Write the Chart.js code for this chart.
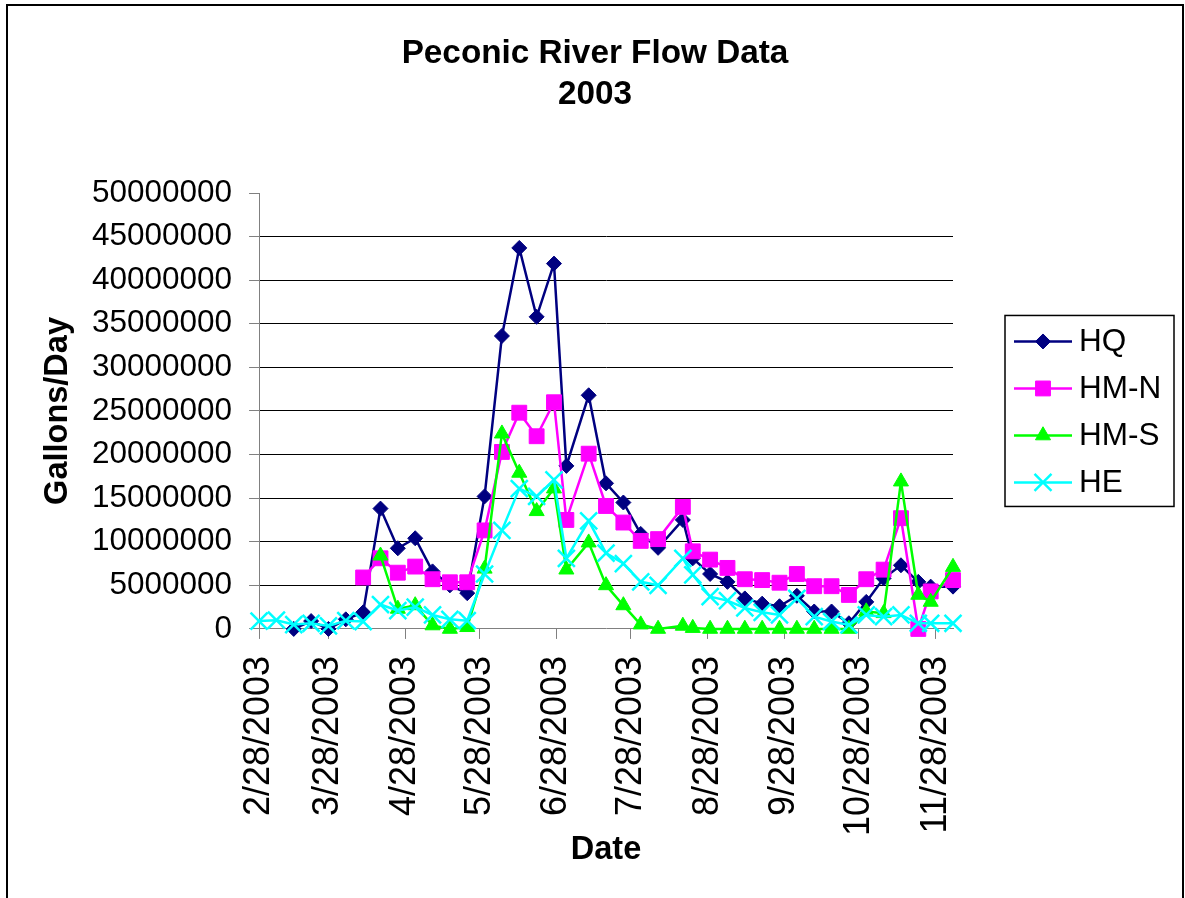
<!DOCTYPE html>
<html>
<head>
<meta charset="utf-8">
<script src="https://cdn.jsdelivr.net/npm/chart.js@4/dist/chart.umd.min.js"></script>
<style>
  html, body { margin: 0; padding: 0; background: #fff; overflow: hidden; }
  #wrap { position: relative; width: 1185px; height: 898px; }
  #frame { position: absolute; left: 6px; top: 4px; width: 1178px; height: 1000px; box-sizing: border-box; border: 2px solid #000; pointer-events: none; }
  canvas { position: absolute; left: 0; top: 0; }
</style>
</head>
<body>
<div id="wrap">
  <canvas id="c" width="1185" height="898"></canvas>
  <div id="frame"></div>
</div>
<script>
// ---- data (Gallons/Day) ----
const dates = ['2/28/2003','3/7/2003','3/14/2003','3/21/2003','3/28/2003','4/4/2003','4/11/2003','4/18/2003','4/25/2003','5/2/2003',
  '5/9/2003','5/16/2003','5/23/2003','5/30/2003','6/6/2003','6/13/2003','6/20/2003','6/27/2003','7/2/2003','7/11/2003',
  '7/18/2003','7/25/2003','8/1/2003','8/8/2003','8/18/2003','8/22/2003','8/29/2003','9/5/2003','9/12/2003','9/19/2003',
  '9/26/2003','10/3/2003','10/10/2003','10/17/2003','10/24/2003','10/31/2003','11/7/2003','11/14/2003','11/21/2003','11/26/2003','12/5/2003'];

const hq  = [null,null,0,900000,0,1100000,1900000,13800000,9250000,10400000,
  6600000,5000000,4100000,15200000,33600000,43700000,35800000,41900000,18700000,26800000,
  16700000,14500000,10900000,9300000,12500000,8100000,6300000,5400000,3500000,2900000,
  2600000,3800000,2000000,2000000,650000,3100000,5800000,7300000,5400000,4850000,4850000];

const hmN = [null,null,null,null,null,null,5900000,8100000,6450000,7150000,
  5700000,5350000,5350000,11300000,20300000,24800000,22100000,26000000,12500000,20100000,
  14100000,12200000,10100000,10300000,14000000,8900000,7950000,7000000,5700000,5600000,
  5300000,6300000,4900000,4900000,3900000,5700000,6800000,12700000,0,4300000,5600000];

const hmS = [null,null,null,null,null,null,null,8400000,2300000,2700000,
  400000,0,200000,6900000,22400000,17900000,13500000,16100000,6800000,9900000,
  5000000,2700000,500000,0,350000,100000,0,0,0,0,
  0,0,0,0,0,2000000,1800000,16900000,3900000,3100000,7100000];

const he  = [900000,1000000,500000,650000,350000,950000,850000,2800000,2100000,2500000,
  1600000,1100000,950000,6300000,11300000,16100000,15200000,17100000,8100000,12400000,
  8700000,7500000,5400000,5000000,8100000,6200000,3700000,3250000,2400000,1900000,
  1600000,3500000,1400000,850000,450000,1600000,1400000,1600000,650000,650000,650000];

const seriesNames = ['HQ','HM-N','HM-S','HE'];
const tickLabels = ['2/28/2003','3/28/2003','4/28/2003','5/28/2003','6/28/2003','7/28/2003','8/28/2003','9/28/2003','10/28/2003','11/28/2003'];
const axisEnd = '12/5/2003';

// ---- helpers ----
function toDay(s) { const p = s.split('/').map(Number); return Date.UTC(p[2], p[0]-1, p[1]) / 86400000; }
function pts(vals) { return dates.map((d, i) => ({ x: toDay(d), y: vals[i] })); }

const FONT = 'Liberation Sans, Arial, sans-serif';
Chart.defaults.font.family = FONT;
Chart.defaults.color = '#000';

const styles = [
  { color: '#000080', pointStyle: 'rectRot', radius: 7.5, pbw: 1 },
  { color: '#FF00FF', pointStyle: 'rect', radius: 10.5, pbw: 1 },
  { color: '#00FF00', pointStyle: 'triangle', radius: 8.7, pbw: 1 },
  { color: '#00FFFF', pointStyle: 'crossRot', radius: 12, pbw: 2.5 }
];
const allSeries = [hq, hmN, hmS, he];

const datasets = allSeries.map((vals, i) => ({
  label: seriesNames[i],
  data: pts(vals),
  borderColor: styles[i].color,
  backgroundColor: styles[i].color,
  borderWidth: 2.5,
  pointStyle: styles[i].pointStyle,
  pointRadius: styles[i].radius,
  pointBackgroundColor: styles[i].color,
  pointBorderColor: styles[i].color,
  pointBorderWidth: styles[i].pbw,
  tension: 0,
  spanGaps: false,
  clip: false,
  order: allSeries.length - i
}));

// Excel-style boxed legend drawn with the library's point helper
const excelLegend = {
  id: 'excelLegend',
  afterDraw(chart) {
    const ctx = chart.ctx, a = chart.chartArea;
    const boxL = a.right + 52, boxW = 169, boxH = 191;
    const midY = (a.top + a.bottom) / 2;
    const boxT = midY - boxH / 2;
    ctx.save();
    ctx.strokeStyle = '#000'; ctx.lineWidth = 1.5;
    ctx.strokeRect(boxL, boxT, boxW, boxH);
    chart.data.datasets.forEach((ds, i) => {
      const y = boxT + 26 + i * 47;
      ctx.strokeStyle = ds.borderColor; ctx.lineWidth = 2.5;
      ctx.beginPath(); ctx.moveTo(boxL + 9, y); ctx.lineTo(boxL + 67, y); ctx.stroke();
      ctx.fillStyle = ds.pointBackgroundColor; ctx.strokeStyle = ds.pointBorderColor; ctx.lineWidth = ds.pointBorderWidth;
      Chart.helpers.drawPoint(ctx, { pointStyle: ds.pointStyle, radius: ds.pointRadius, rotation: 0, borderWidth: ds.pointBorderWidth }, boxL + 38, y);
      ctx.fillStyle = '#000'; ctx.font = '31.5px ' + FONT; ctx.textBaseline = 'middle'; ctx.textAlign = 'left';
      ctx.fillText(ds.label, boxL + 74, y + 1);
    });
    ctx.restore();
  }
};

new Chart(document.getElementById('c'), {
  type: 'line',
  data: { datasets },
  plugins: [excelLegend],
  options: {
    responsive: false,
    animation: false,
    events: [],
    devicePixelRatio: 1,
    layout: { padding: { left: 5, right: 0, top: 0, bottom: 0 } },
    plugins: {
      legend: { display: false },
      tooltip: { enabled: false },
      title: {
        display: true,
        text: ['Peconic River Flow Data', '2003'],
        color: '#000',
        font: { size: 33.3, weight: 'bold', lineHeight: 41 / 33.3 },
        padding: { top: 33.5, bottom: 77.5 }
      }
    },
    scales: {
      x: {
        type: 'linear',
        min: toDay(tickLabels[0]),
        max: toDay(axisEnd),
        afterBuildTicks: (axis) => { axis.ticks = tickLabels.map(s => ({ value: toDay(s) })); },
        ticks: {
          autoSkip: false, minRotation: 90, maxRotation: 90, padding: 17,
          font: { size: 36 }, color: '#000',
          callback: (v) => { const i = tickLabels.findIndex(s => toDay(s) === v); return i >= 0 ? tickLabels[i] : ''; }
        },
        grid: { drawOnChartArea: false, drawTicks: true, tickLength: 10, color: '#808080', tickColor: '#808080' },
        border: { color: '#808080', width: 1 },
        title: { display: true, text: 'Date', color: '#000', font: { size: 32.5, weight: 'bold', lineHeight: 1.2 }, padding: { top: -22.6, bottom: 28.5 } }
      },
      y: {
        position: 'left',
        min: 0, max: 50000000,
        ticks: { stepSize: 5000000, padding: 17, font: { size: 31.5 }, color: '#000', callback: (v) => String(v) },
        grid: {
          drawTicks: true, tickLength: 10, tickColor: '#808080', lineWidth: 1,
          color: (c) => (c.tick && (c.tick.value === 50000000 || c.tick.value === 0)) ? 'rgba(0,0,0,0)' : '#000'
        },
        border: { color: '#808080', width: 1 },
        title: { display: true, text: 'Gallons/Day', color: '#000', font: { size: 32.5, weight: 'bold', lineHeight: 1.2 }, padding: { top: 33.5, bottom: -2.6 } }
      },
      legendSpace: {
        position: 'right',
        display: true,
        ticks: { display: false },
        grid: { display: false },
        border: { display: false },
        afterFit: (s) => { s.width = 232; }
      }
    }
  }
});
</script>
</body>
</html>
